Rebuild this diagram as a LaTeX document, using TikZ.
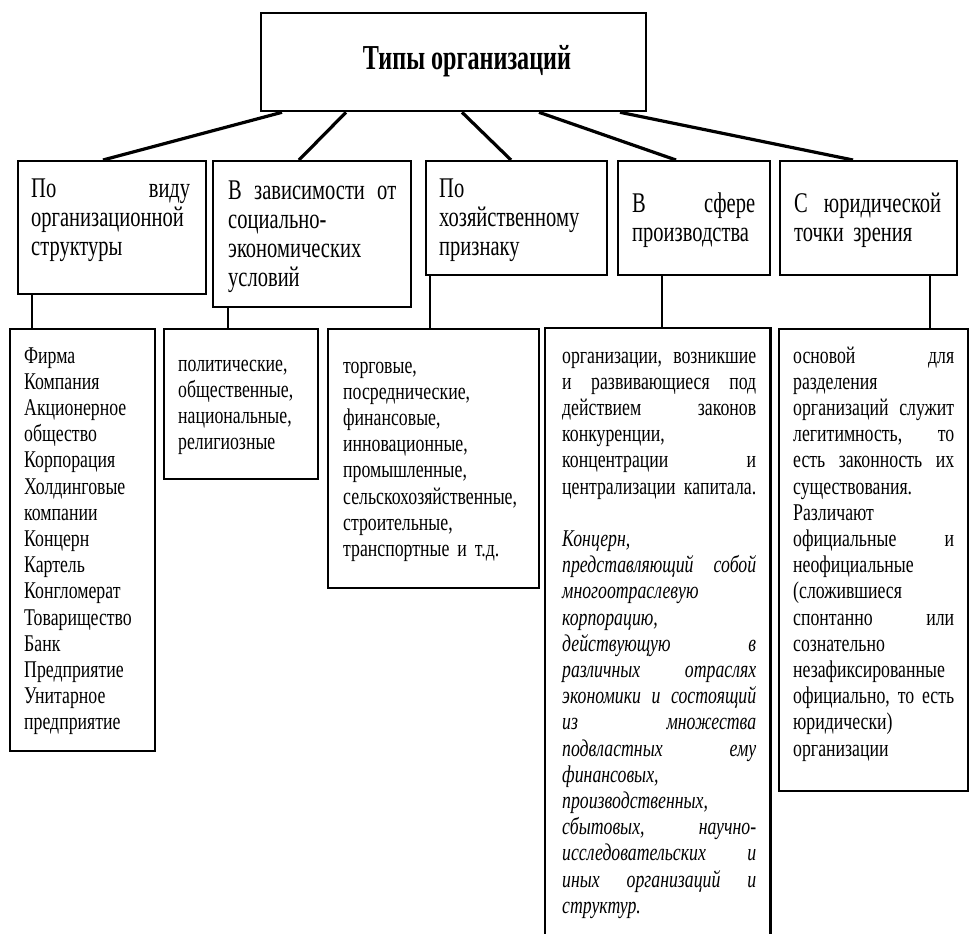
\documentclass[tikz,border=0pt]{standalone}
\usepackage{fontspec}
\setmainfont{Liberation Serif}[FakeStretch=0.74]
\newfontfamily\catfont{Liberation Serif}[FakeStretch=0.72]
\newfontfamily\titlefont{Liberation Serif}[FakeStretch=0.69]
\usetikzlibrary{calc}

% a justified line: words spread over the full text width
\newcommand{\jl}[1]{\leavevmode\hbox to \hsize{#1}}
% fixed line pitch, whatever the letters
\newcommand{\tightlines}{\lineskiplimit=-50pt\relax\lineskip=0pt\relax}

\begin{document}
\begin{tikzpicture}[x=1pt,y=-1pt,
  box/.style={draw, line width=2.3pt, rectangle, inner sep=0pt, anchor=north west},
  link/.style={line width=3.2pt},
  drop/.style={line width=1.8pt},
  head/.style={inner sep=0pt, anchor=base, font=\titlefont\fontsize{35}{38}\selectfont\bfseries},
  cat/.style={inner sep=0pt, anchor=base west, align=left,
    font=\catfont\fontsize{28.5}{29}\selectfont\tightlines},
  list/.style={inner sep=0pt, anchor=base west, align=left,
    font=\fontsize{24}{26.2}\selectfont\tightlines}
]
\useasboundingbox (0,0) rectangle (969,934);

% root
\node[box, minimum width=385pt, minimum height=98pt] (top) at (260,12) {};
\node[head] (title) at (467,70) {Типы организаций};

% criteria
\node[box, minimum width=188pt, minimum height=133pt] (a) at (17,160) {};
\node[box, minimum width=198pt, minimum height=146pt] (b) at (212,160) {};
\node[box, minimum width=181pt, minimum height=114pt] (c) at (425,160) {};
\node[box, minimum width=152pt, minimum height=114pt] (d) at (617,160) {};
\node[box, minimum width=177pt, minimum height=114pt] (e) at (779,160) {};

\node[cat, text width=159pt] (ta) at (31,197) {\jl{По\hfill виду}\\организационной\\структуры};
\node[cat, text width=168pt] (tb) at (228,199) {\jl{В\hfill зависимости\hfill от}\\социально-\\экономических\\условий};
\node[cat, text width=160pt] (tc) at (439,197) {По\\хозяйственному\\признаку};
\node[cat, text width=123pt] (td) at (632,212) {\jl{В\hfill сфере}\\производства};
\node[cat, text width=147pt] (te) at (794,212) {\jl{С\hfill юридической}\\точки зрения};

% kinds
\node[box, minimum width=145pt, minimum height=422pt] (a3) at (9,328) {};
\node[box, minimum width=154pt, minimum height=150pt] (b3) at (163,328) {};
\node[box, minimum width=211pt, minimum height=259pt] (c3) at (327,328) {};
\node[inner sep=0pt, anchor=north west, minimum width=225pt, minimum height=615pt] (d3) at (545,328) {};
\draw[line width=2.3pt] (d3.south west) -- (d3.north west) -- (d3.north east) -- (d3.south east);
\node[box, minimum width=189pt, minimum height=462pt] (e3) at (778,328) {};

\node[list, text width=130pt] (ta3) at (24,363) {Фирма\\Компания\\Акционерное\\общество\\Корпорация\\Холдинговые\\компании\\Концерн\\Картель\\Конгломерат\\Товарищество\\Банк\\Предприятие\\Унитарное\\предприятие};
\node[list, text width=135pt] (tb3) at (178,371) {политические,\\общественные,\\национальные,\\религиозные};
\node[list, text width=190pt] (tc3) at (343,373) {торговые,\\посреднические,\\финансовые,\\инновационные,\\промышленные,\\сельскохозяйственные,\\строительные,\\транспортные и т.д.};

\node[list, text width=194pt] (td3) at (562,363) {%
\jl{организации,\hfill возникшие}\\
\jl{и\hfill развивающиеся\hfill под}\\
\jl{действием\hfill законов}\\
конкуренции,\\
\jl{концентрации\hfill и}\\
\jl{централизации\hfill капитала.}\\[26.2pt]
\itshape Концерн,\\
\jl{представляющий\hfill собой}\\
многоотраслевую\\
корпорацию,\\
\jl{действующую\hfill в}\\
\jl{различных\hfill отраслях}\\
\jl{экономики\hfill и\hfill состоящий}\\
\jl{из\hfill множества}\\
\jl{подвластных\hfill ему}\\
финансовых,\\
производственных,\\
\jl{сбытовых,\hfill научно-}\\
\jl{исследовательских\hfill и}\\
\jl{иных\hfill организаций\hfill и}\\
структур.};

\node[list, text width=161pt] (te3) at (793,363) {%
\jl{основой\hfill для}\\
разделения\\
\jl{организаций\hfill служит}\\
\jl{легитимность,\hfill то}\\
\jl{есть\hfill законность\hfill их}\\
существования.\\
Различают\\
\jl{официальные\hfill и}\\
неофициальные\\
(сложившиеся\\
\jl{спонтанно\hfill или}\\
сознательно\\
незафиксированные\\
\jl{официально,\hfill то\hfill есть}\\
юридически)\\
организации};

% root to criteria
\draw[link] ([xshift=22pt]top.south west) -- ([xshift=86pt]a.north west);
\draw[link] ([xshift=86pt]top.south west) -- ([xshift=87pt]b.north west);
\draw[link] ([xshift=202pt]top.south west) -- ([xshift=86pt]c.north west);
\draw[link] ([xshift=279pt]top.south west) -- ([xshift=59pt]d.north west);
\draw[link] ([xshift=360pt]top.south west) -- ([xshift=74pt]e.north west);

% criteria to kinds
\draw[drop] ([xshift=15pt]a.south west) -- ([xshift=23pt]a3.north west);
\draw[drop] ([xshift=16pt]b.south west) -- ([xshift=65pt]b3.north west);
\draw[drop] ([xshift=5pt]c.south west) -- ([xshift=103pt]c3.north west);
\draw[drop] ([xshift=45pt]d.south west) -- ([xshift=117pt]d3.north west);
\draw[drop] ([xshift=151pt]e.south west) -- ([xshift=152pt]e3.north west);
\end{tikzpicture}
\end{document}
